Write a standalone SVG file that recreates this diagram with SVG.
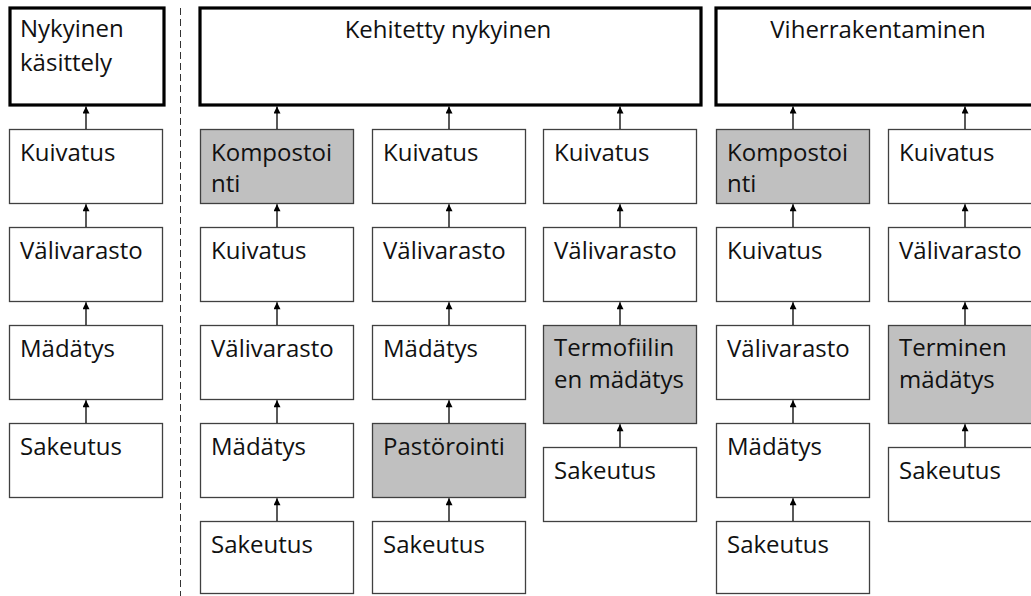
<svg xmlns="http://www.w3.org/2000/svg" width="1031" height="596" viewBox="0 0 1031 596">
<defs>
<marker id="ah" viewBox="0 0 10 10" refX="10" refY="5" markerWidth="8" markerHeight="7" markerUnits="userSpaceOnUse" orient="auto">
<path d="M0,0 L10,5 L0,10 z" fill="#000"/>
</marker>
<style>
.top{fill:#fff;stroke:#000;stroke-width:3.2}
.box{fill:#fff;stroke:#404040;stroke-width:1.3}
.gray{fill:#c0c0c0;stroke:#404040;stroke-width:1.3}
text{font-family:"Open Sans","Noto Sans","Liberation Sans",sans-serif;font-size:24px;fill:#111}
.c{text-anchor:middle}
.conn line{stroke:#000;stroke-width:1.3;marker-end:url(#ah)}
.sep{stroke:#333;stroke-width:1;stroke-dasharray:7 4}
</style>
</defs>
<rect width="1031" height="596" fill="#fff"/>
<line class="sep" x1="180.5" y1="8" x2="180.5" y2="596"/>

<g id="top-nykyinen"><rect class="top" x="10" y="8" width="154" height="97"/><text x="20" y="37">Nykyinen</text><text x="20" y="71">käsittely</text></g>
<g id="top-kehitetty"><rect class="top" x="200" y="8" width="501" height="97"/><text class="c" x="448" y="38">Kehitetty nykyinen</text></g>
<g id="top-viher"><rect class="top" x="716" y="8" width="325" height="97"/><text class="c" x="878" y="38">Viherrakentaminen</text></g>

<g id="c0r0"><rect class="box" x="9.5" y="129.5" width="153" height="74"/><text x="20" y="161">Kuivatus</text></g>
<g id="c0r1"><rect class="box" x="9.5" y="227.5" width="153" height="74"/><text x="20" y="259">Välivarasto</text></g>
<g id="c0r2"><rect class="box" x="9.5" y="325.5" width="153" height="74"/><text x="20" y="357">Mädätys</text></g>
<g id="c0r3"><rect class="box" x="9.5" y="423.5" width="153" height="74"/><text x="20" y="455">Sakeutus</text></g>

<g id="c1r0"><rect class="gray" x="200.5" y="129.5" width="153" height="74"/><text x="211" y="161">Kompostoi</text><text x="211" y="192">nti</text></g>
<g id="c1r1"><rect class="box" x="200.5" y="227.5" width="153" height="74"/><text x="211" y="259">Kuivatus</text></g>
<g id="c1r2"><rect class="box" x="200.5" y="325.5" width="153" height="74"/><text x="211" y="357">Välivarasto</text></g>
<g id="c1r3"><rect class="box" x="200.5" y="423.5" width="153" height="74"/><text x="211" y="455">Mädätys</text></g>
<g id="c1r4"><rect class="box" x="200.5" y="521.5" width="153" height="72"/><text x="211" y="553">Sakeutus</text></g>

<g id="c2r0"><rect class="box" x="372.5" y="129.5" width="153" height="74"/><text x="383" y="161">Kuivatus</text></g>
<g id="c2r1"><rect class="box" x="372.5" y="227.5" width="153" height="74"/><text x="383" y="259">Välivarasto</text></g>
<g id="c2r2"><rect class="box" x="372.5" y="325.5" width="153" height="74"/><text x="383" y="357">Mädätys</text></g>
<g id="c2r3"><rect class="gray" x="372.5" y="423.5" width="153" height="74"/><text x="383" y="455">Pastörointi</text></g>
<g id="c2r4"><rect class="box" x="372.5" y="521.5" width="153" height="72"/><text x="383" y="553">Sakeutus</text></g>

<g id="c3r0"><rect class="box" x="543.5" y="129.5" width="153" height="74"/><text x="554" y="161">Kuivatus</text></g>
<g id="c3r1"><rect class="box" x="543.5" y="227.5" width="153" height="74"/><text x="554" y="259">Välivarasto</text></g>
<g id="c3r2"><rect class="gray" x="543.5" y="325.5" width="153" height="98"/><text x="554" y="356">Termofiilin</text><text x="554" y="388">en mädätys</text></g>
<g id="c3r3"><rect class="box" x="543.5" y="447.5" width="153" height="74"/><text x="554" y="479">Sakeutus</text></g>

<g id="c4r0"><rect class="gray" x="716.5" y="129.5" width="153" height="74"/><text x="727" y="161">Kompostoi</text><text x="727" y="192">nti</text></g>
<g id="c4r1"><rect class="box" x="716.5" y="227.5" width="153" height="74"/><text x="727" y="259">Kuivatus</text></g>
<g id="c4r2"><rect class="box" x="716.5" y="325.5" width="153" height="74"/><text x="727" y="357">Välivarasto</text></g>
<g id="c4r3"><rect class="box" x="716.5" y="423.5" width="153" height="74"/><text x="727" y="455">Mädätys</text></g>
<g id="c4r4"><rect class="box" x="716.5" y="521.5" width="153" height="72"/><text x="727" y="553">Sakeutus</text></g>

<g id="c5r0"><rect class="box" x="888.5" y="129.5" width="153" height="74"/><text x="899" y="161">Kuivatus</text></g>
<g id="c5r1"><rect class="box" x="888.5" y="227.5" width="153" height="74"/><text x="899" y="259">Välivarasto</text></g>
<g id="c5r2"><rect class="gray" x="888.5" y="325.5" width="153" height="98"/><text x="899" y="356">Terminen</text><text x="899" y="388">mädätys</text></g>
<g id="c5r3"><rect class="box" x="888.5" y="447.5" width="153" height="74"/><text x="899" y="479">Sakeutus</text></g>

<g id="connectors" class="conn">
<line x1="86" y1="129" x2="86" y2="106.6"/>
<line x1="86" y1="227" x2="86" y2="204.2"/>
<line x1="86" y1="325" x2="86" y2="302.2"/>
<line x1="86" y1="423" x2="86" y2="400.2"/>

<line x1="277" y1="129" x2="277" y2="106.6"/>
<line x1="277" y1="227" x2="277" y2="204.2"/>
<line x1="277" y1="325" x2="277" y2="302.2"/>
<line x1="277" y1="423" x2="277" y2="400.2"/>
<line x1="277" y1="521" x2="277" y2="498.2"/>

<line x1="449" y1="129" x2="449" y2="106.6"/>
<line x1="449" y1="227" x2="449" y2="204.2"/>
<line x1="449" y1="325" x2="449" y2="302.2"/>
<line x1="449" y1="423" x2="449" y2="400.2"/>
<line x1="449" y1="521" x2="449" y2="498.2"/>

<line x1="620" y1="129" x2="620" y2="106.6"/>
<line x1="620" y1="227" x2="620" y2="204.2"/>
<line x1="620" y1="325" x2="620" y2="302.2"/>
<line x1="620" y1="447" x2="620" y2="424.2"/>

<line x1="793" y1="129" x2="793" y2="106.6"/>
<line x1="793" y1="227" x2="793" y2="204.2"/>
<line x1="793" y1="325" x2="793" y2="302.2"/>
<line x1="793" y1="423" x2="793" y2="400.2"/>
<line x1="793" y1="521" x2="793" y2="498.2"/>

<line x1="965" y1="129" x2="965" y2="106.6"/>
<line x1="965" y1="227" x2="965" y2="204.2"/>
<line x1="965" y1="325" x2="965" y2="302.2"/>
<line x1="965" y1="447" x2="965" y2="424.2"/>
</g>
</svg>
